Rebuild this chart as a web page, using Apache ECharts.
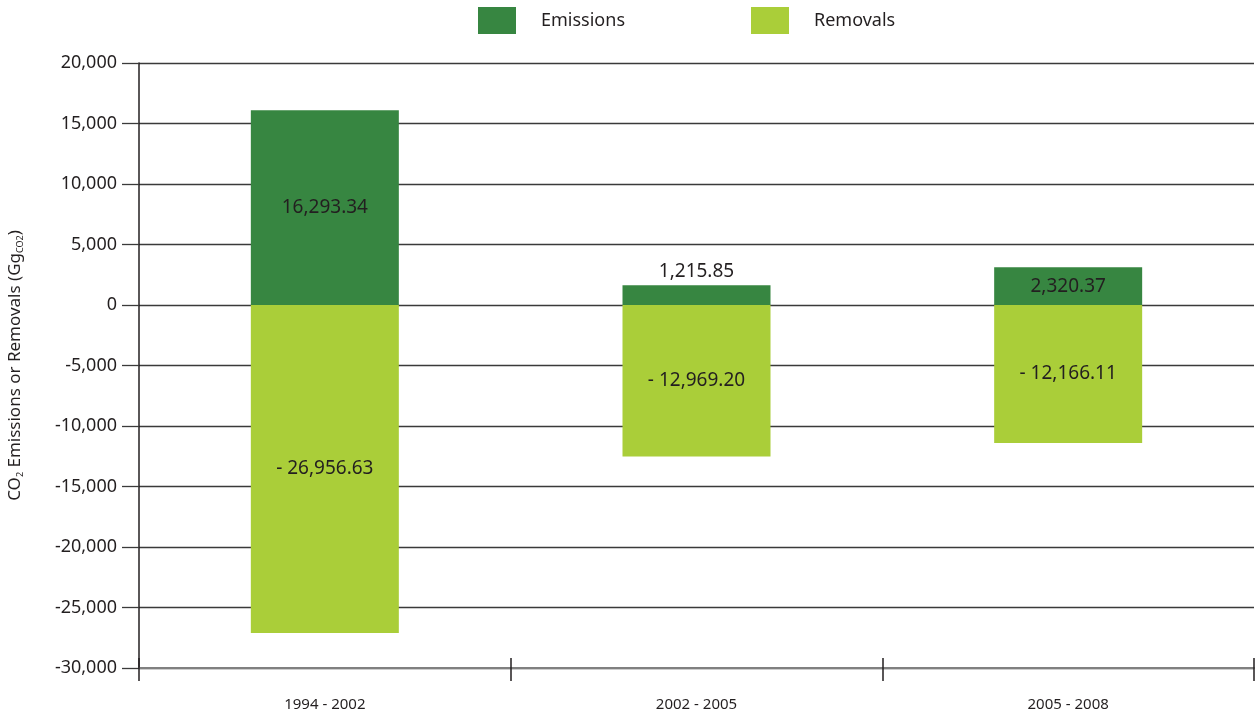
<!DOCTYPE html>
<html>
<head>
<meta charset="utf-8">
<script src="https://cdn.jsdelivr.net/npm/echarts@6/dist/echarts.min.js"></script>
<style>
  html, body { margin: 0; padding: 0; background: #fff; }
  #main { width: 1255px; height: 717px; }
</style>
</head>
<body>
<div id="main"></div>
<script>
// periods on the x axis
const periods = ['1994 - 2002', '2002 - 2005', '2005 - 2008']
// bar heights as drawn (Gg CO2)
const emissions = [16100, 1630, 3120]
const removals = [-27100, -12530, -11410]
// printed values on the bars
const emissionLabels = ['16,293.34', '1,215.85', '2,320.37']
const removalLabels = ['- 26,956.63', '- 12,969.20', '- 12,166.11']
// y ticks
const yMin = -30000, yMax = 20000, yStep = 5000

const font = 'Noto Sans'
const txt = '#231f20'

const myChart = echarts.init(document.getElementById('main'))

myChart.setOption({
  animation: false,
  textStyle: { fontFamily: font },
  legend: {
    left: 473,
    top: 2,
    itemWidth: 38,
    itemHeight: 27,
    itemGap: 126,
    icon: 'rect',
    textStyle: { fontSize: 18, color: txt, padding: [0, 0, 0, 20], fontFamily: font },
    data: ['Emissions', 'Removals']
  },
  grid: { left: 139, right: 1, top: 63, bottom: 49, containLabel: false, outerBoundsMode: 'none' },
  xAxis: [
    {
      type: 'category',
      data: periods,
      position: 'bottom',
      axisLine: { onZero: false, lineStyle: { color: '#808080', width: 2 } },
      axisTick: { show: true, length: 13, lineStyle: { color: '#231f20', width: 1.5 } },
      axisLabel: { fontSize: 15, color: txt, margin: 29 }
    },
    {
      type: 'category',
      data: periods,
      position: 'bottom',
      axisLine: { show: false, onZero: false },
      axisTick: { show: true, inside: true, length: 10, lineStyle: { color: '#231f20', width: 1.5 } },
      axisLabel: { show: false }
    }
  ],
  yAxis: {
    type: 'value',
    min: yMin,
    max: yMax,
    interval: yStep,
    axisLine: { show: true, onZero: false, lineStyle: { color: '#231f20', width: 1.5 } },
    axisTick: { show: true, length: 17, lineStyle: { color: '#3a3a3a', width: 1.3 } },
    splitLine: { show: true, lineStyle: { color: '#3a3a3a', width: 1.3 } },
    axisLabel: {
      fontSize: 18,
      color: txt,
      margin: 22,
      formatter: v => v.toLocaleString('en-US')
    },
    name: '{m|CO}{s|2}{m| Emissions or Removals (Gg}{s|CO2}{m|)}',
    nameLocation: 'middle',
    nameGap: 114,
    nameRotate: 90,
    nameTextStyle: {
      rich: {
        m: { fontSize: 17, color: txt, fontFamily: font, lineHeight: 20 },
        s: { fontSize: 9, color: txt, fontFamily: font, lineHeight: 20, verticalAlign: 'bottom', padding: [8, 0, 0, 0] }
      }
    }
  },
  series: [
    {
      name: 'Emissions',
      type: 'bar',
      stack: 'total',
      barWidth: 148,
      itemStyle: { color: '#378641' },
      label: {
        show: true,
        position: 'inside',
        fontSize: 19,
        color: txt,
        fontFamily: font,
        formatter: p => emissionLabels[p.dataIndex]
      },
      data: emissions.map((v, i) => i === 1
        ? { value: v, label: { position: 'top', distance: 4 } }
        : v)
    },
    {
      name: 'Removals',
      type: 'bar',
      stack: 'total',
      barWidth: 148,
      itemStyle: { color: '#aace39' },
      label: {
        show: true,
        position: 'inside',
        fontSize: 19,
        color: txt,
        fontFamily: font,
        formatter: p => removalLabels[p.dataIndex]
      },
      data: removals
    }
  ]
})
</script>
</body>
</html>
